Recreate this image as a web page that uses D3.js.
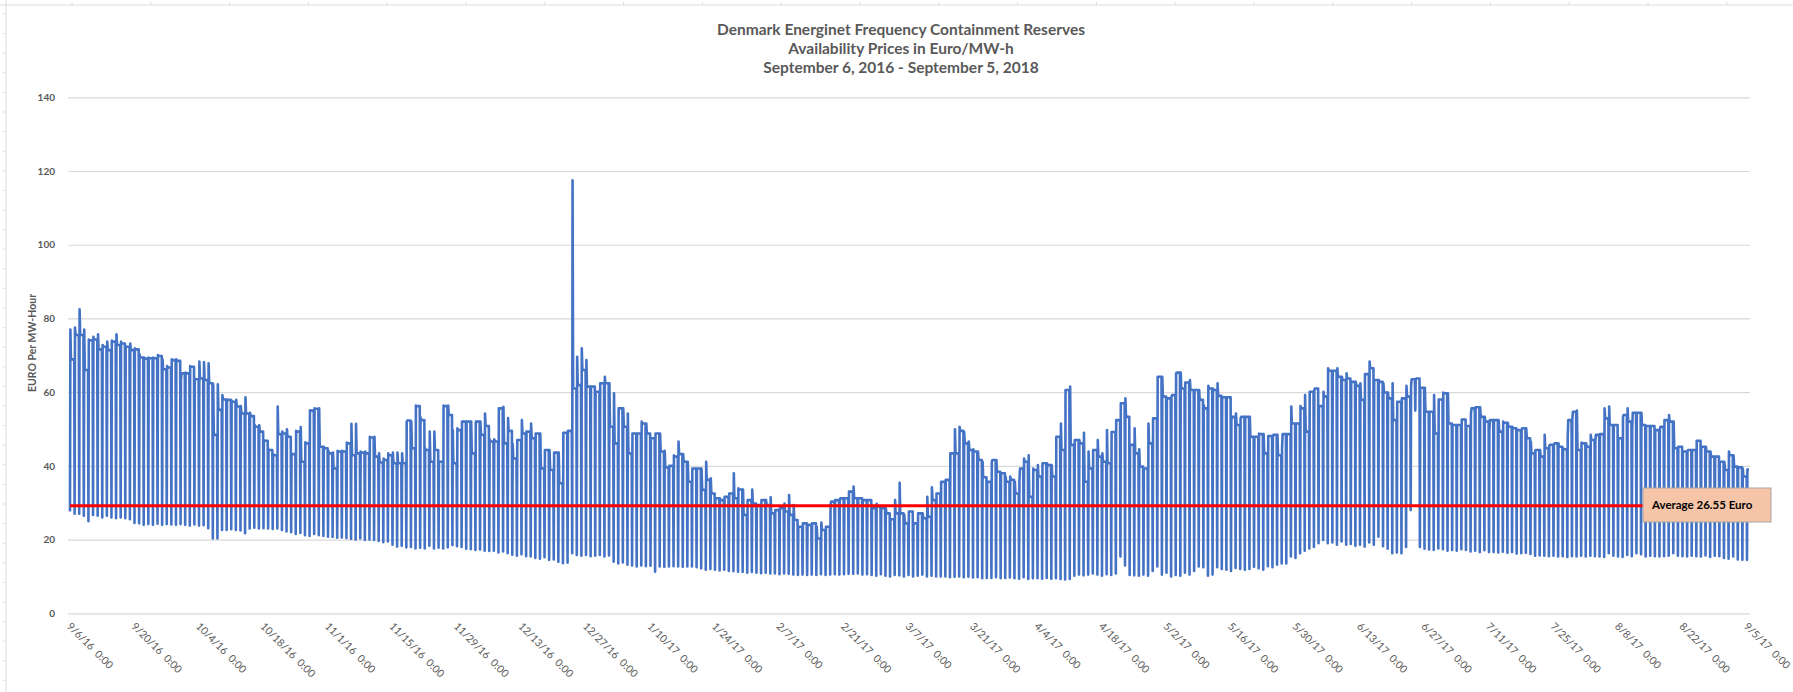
<!DOCTYPE html>
<html>
<head>
<meta charset="utf-8">
<title>Denmark Energinet FCR availability prices</title>
<script src="https://d3js.org/d3.v7.min.js"></script>
<style>
  body { margin: 0; background: #fff; }
  text { font-family: Lato, "Open Sans", sans-serif; }
</style>
</head>
<body>
<div id="chart"></div>
<script>
// ---- data ----
var titleLines = [
  "Denmark Energinet Frequency Containment Reserves",
  "Availability Prices in Euro/MW-h",
  "September 6, 2016 - September 5, 2018"
];
var yAxisTitle = "EURO Per MW-Hour";
var yTicks = [0, 20, 40, 60, 80, 100, 120, 140];
var firstDay = new Date(2016, 8, 6);
var lastDay = new Date(2017, 8, 5);
var tickStepDays = 14;

// daily morning peak (Euro/MW-h)
var peakPrices = [
  77, 77.5, 82.5, 77, 74.3, 75, 75.7, 72.8, 73.7, 74,
  75.7, 73.7, 72.5, 73.2, 71.9, 70.3, 69.4, 69.4, 69.4, 70.1,
  68.9, 67.1, 68.9, 68.9, 63.3, 65.3, 67.1, 63.7, 68.3, 68.2,
  67.8, 62.2, 62.1, 59.2, 58, 57.7, 57.9, 56.2, 58.6, 54.4,
  51.1, 51, 47, 44.5, 43.2, 56.1, 49.3, 49.9, 43.4, 49.5,
  50.5, 46.4, 55.1, 55.6, 55.6, 45.2, 44.1, 43.6, 44.1, 44.1,
  46.3, 51.4, 51.4, 43.9, 43.9, 47.9, 47.9, 43.4, 42, 43.4,
  43.6, 43.6, 43.4, 52, 52, 56.4, 53.2, 44.8, 49.3, 49.3,
  41.1, 56.4, 56.4, 49.7, 50.2, 52, 52, 52, 52, 52,
  54.2, 47.2, 47.2, 55.6, 56, 53, 46, 47, 52.4, 49.3,
  51.5, 48.8, 48.8, 44.3, 44.3, 43.6, 43.6, 49, 49.5, 117.5,
  69.6, 71.9, 68.7, 61.5, 60.1, 62.4, 64.2, 62.4, 59.7, 55.6,
  55.6, 54.2, 48.8, 48.8, 52, 51.5, 47.5, 48.8, 48.8, 44.1,
  40, 42.9, 46.6, 43.2, 41.1, 39.3, 39.3, 39.3, 41.1, 36.6,
  31.2, 31.2, 31.6, 32.5, 38, 33.9, 33.6, 30.7, 33.6, 29.4,
  30.7, 30.7, 31.5, 28, 28.5, 29.8, 32.1, 29.4, 23.5, 24.4,
  24, 24.4, 23.5, 24.6, 23.5, 29.4, 30.7, 30.3, 31.2, 33,
  34.4, 31.2, 30.7, 30.7, 28.9, 29.7, 28.5, 28.5, 25.5, 30.7,
  35.4, 26.7, 27.6, 24.4, 27.1, 27.1, 31.6, 34.2, 32.5, 35.7,
  36.2, 43.4, 49.9, 50.6, 49.2, 46.6, 44.5, 43.9, 41.1, 35.7,
  41.1, 41.6, 38, 37.1, 37.1, 35.7, 36.2, 42, 42.9, 39.3,
  40.2, 40.7, 40.7, 40.2, 47.9, 51.5, 60.6, 61.5, 47, 47,
  49, 43.9, 44.3, 47, 43.4, 49.7, 49.2, 52.4, 57, 58.3,
  45.7, 50.2, 44.5, 39.3, 51.5, 52.9, 64.2, 64.2, 58.3, 58.8,
  65.1, 65.3, 62.6, 63.3, 60.6, 60.6, 56.5, 61.7, 61, 62.4,
  58.6, 58.6, 52.4, 54.2, 52.9, 53.3, 53.3, 47.9, 48.8, 48.6,
  48.1, 48.1, 48.4, 44.8, 48.6, 56.1, 51.5, 56.2, 59.2, 60.1,
  60.6, 56.2, 60.1, 66.5, 65.8, 66.5, 64.2, 65.1, 62.8, 62.8,
  62.4, 64.9, 68.3, 63.3, 63.3, 62.4, 59.9, 62.4, 57.4, 58.3,
  61.7, 61.5, 63.5, 61.2, 61.2, 54.7, 59.2, 58, 59.9, 59.7,
  51.1, 51.1, 52.6, 50.8, 54.2, 55.9, 55.9, 53.3, 49.9, 52.4,
  52.4, 52, 51.7, 50.6, 49.5, 49.7, 50.2, 46.6, 44.3, 44.3,
  48.4, 45.4, 45.7, 46.1, 44.8, 47.9, 52.4, 55, 46.3, 46.1,
  48.4, 47, 48.6, 55.6, 56.1, 51.1, 47.5, 53.3, 55.6, 50.2,
  54.4, 54.4, 50.8, 50.8, 49.3, 49.7, 52.4, 53.8, 52, 45.2,
  43.9, 43.9, 44.3, 46.8, 45.2, 45.2, 43.9, 42.5, 41.1, 41.1,
  43.9, 42.9, 39.6, 39.3, 39
];

// daytime level after the peak
var plateauPrices = [
  68.9, 75.5, 75.5, 66, 74.1, 74.3, 71.6, 72.3, 71.4, 73.7,
  72.8, 73.2, 72.3, 71.4, 71.6, 69.4, 69.1, 69.2, 69.2, 69.8,
  66.2, 66.7, 68.7, 68.5, 65.1, 65.1, 66.9, 63.5, 63.7, 63.3,
  62.4, 48.4, 55.2, 58, 57.9, 57.4, 56.1, 54.2, 54.2, 53.5,
  50.6, 49.3, 46.8, 44.3, 42.9, 48.6, 48.8, 47.9, 43.2, 49.3,
  41.1, 46.1, 55, 55.5, 45.2, 44.8, 43.4, 39.3, 43.9, 43.9,
  46.1, 42.9, 43.4, 43.6, 43.4, 47.7, 42.5, 40.9, 41.6, 42.9,
  40.7, 40.7, 40.7, 52.3, 44.8, 56.2, 52.4, 44.3, 41.1, 44.3,
  41.1, 56.2, 53.8, 40.7, 49.7, 52, 52, 43.4, 52, 48.4,
  50.8, 46.6, 46.6, 55.6, 46.1, 49.5, 42, 47, 48.8, 49.3,
  47.5, 48.8, 39.3, 44.3, 38.9, 43.6, 35.3, 49, 49.5, 61,
  61.9, 66, 61.5, 61.5, 60.1, 62.4, 62.4, 50.6, 46.1, 55.6,
  50.6, 43.4, 48.8, 48.8, 51.5, 48.8, 47.5, 48.8, 43.9, 39.6,
  40, 42.5, 43.2, 41.1, 35.7, 39.3, 39.3, 33.5, 36.2, 32.5,
  31.2, 30.7, 31.6, 32.5, 31.2, 33.6, 26.7, 30.7, 29.8, 29.4,
  30.7, 29.4, 27.1, 28, 28.5, 27.6, 26.7, 25.3, 23.5, 24.4,
  24, 24.4, 20.3, 22.6, 23.5, 30.3, 30.7, 31.2, 31.2, 33,
  31.2, 31.2, 30.7, 30.7, 28.5, 28.9, 28.5, 27.1, 25.5, 27.1,
  27.1, 24.4, 27.6, 24.4, 27.1, 25.8, 26.2, 30.7, 32.5, 35.7,
  36.2, 43.4, 43.4, 49.5, 46.1, 44.3, 43.9, 41.6, 36.9, 35.7,
  41.6, 38.4, 38, 35.7, 36.2, 32.5, 39.3, 41.1, 31.6, 38.9,
  37.1, 40.7, 40.2, 37.1, 47.9, 44.3, 60.6, 45.7, 47, 46.1,
  35.7, 39.3, 44.3, 42.5, 41.1, 40.7, 49.2, 52.4, 57, 53.3,
  45.7, 43.4, 39.8, 39.3, 46.1, 52.9, 64.2, 58.8, 58.3, 59.2,
  65.3, 61, 62.6, 60.6, 60.6, 57.9, 55.6, 61, 60.6, 59,
  58.6, 58.6, 53.3, 51.1, 53.3, 53.3, 47.9, 47.9, 48.6, 43.4,
  48.1, 48.4, 42.9, 48.6, 48.6, 51.5, 51.5, 55.6, 49.3, 60.1,
  61, 56.2, 58.8, 65.8, 65.8, 64.2, 63.3, 63.7, 62.8, 61.7,
  57.9, 64.9, 66.5, 63.3, 62.8, 59.9, 58.3, 52.4, 57.4, 58.3,
  58.8, 63.5, 63.7, 61.2, 54.7, 54.7, 48.8, 58, 59.7, 51.5,
  51.1, 51.1, 52.6, 50.8, 55.6, 55.9, 53.3, 52, 52.4, 52.4,
  49.3, 51.7, 50.6, 50.2, 49.7, 50.2, 47.5, 43.4, 44.3, 42.5,
  44.8, 45.7, 46.1, 45.2, 44.5, 52.4, 54.7, 44.3, 46.1, 45.2,
  47, 48.4, 48.6, 52.9, 51.1, 51.1, 47.5, 53.8, 52, 54.4,
  54.4, 51.1, 50.8, 50.8, 49.7, 50.6, 52.4, 52, 44.8, 45.2,
  43.9, 44.3, 44.3, 46.8, 45.2, 43.9, 42.5, 42.5, 41.1, 38.9,
  42.9, 39.8, 39.6, 37.1, 39
];

// night-time low
var lowPrices = [
  27.6, 27, 27, 26.5, 25, 26.7, 26.5, 26, 26.5, 26,
  25.8, 26, 25.8, 25.5, 24.5, 24.4, 24, 24.2, 24, 24.3,
  24, 24.2, 24.1, 24, 24.2, 24, 23.8, 24.1, 23.8, 23.9,
  23.1, 20.3, 20.3, 22.6, 22.6, 22.8, 22.6, 22.5, 21.7, 23,
  23.2, 23, 23.1, 23, 22.9, 23, 22.6, 22.2, 22, 21.5,
  21.8, 21.2, 21, 21.5, 21.2, 21, 20.8, 20.7, 20.5, 20.6,
  20.4, 20.2, 20, 20.3, 19.9, 20, 19.9, 19.6, 19.3, 19.5,
  18.6, 18.1, 18.3, 17.9, 18, 17.6, 17.8, 17.6, 18.3, 17.6,
  17.8, 17.6, 17.9, 18.5, 18.2, 18, 17.5, 17.4, 17.2, 17.3,
  17, 16.9, 17, 16.5, 16.8, 16.3, 15.9, 15.6, 16, 15.5,
  15.4, 15, 14.8, 15.2, 14.5, 14.6, 14, 13.6, 13.7, 16.3,
  15.8, 15.6, 15.8, 15.5, 15.6, 15.8, 15.4, 15.7, 14, 13.5,
  13.8, 13.2, 13, 12.7, 13, 12.8, 12.9, 11.3, 12.7, 12.6,
  12.7, 12.8, 12.7, 12.6, 12.7, 12.7, 12.5, 12.2, 11.8, 12,
  11.8, 11.6, 11.8, 11.5, 11.4, 11.3, 11.2, 11, 11.2, 11,
  10.9, 11, 10.8, 10.8, 10.6, 10.8, 10.7, 10.5, 10.4, 10.5,
  10.4, 10.5, 10.4, 10.6, 10.4, 10.5, 10.6, 10.5, 10.6, 10.7,
  10.7, 10.8, 10.5, 10.6, 10.4, 10.2, 10.6, 10.2, 10, 10.4,
  10.3, 10, 10.4, 10, 10.2, 10.5, 10, 10.2, 10, 10,
  10, 9.8, 9.9, 10, 9.8, 9.9, 9.7, 9.8, 9.5, 9.6,
  9.6, 9.8, 9.5, 9.6, 9.7, 9.5, 9.4, 9.8, 9.3, 9.5,
  9.5, 9.4, 9.6, 9.4, 9.5, 9.3, 9.2, 9.3, 10.2, 10.5,
  10.3, 10.5, 10.8, 10.5, 10.2, 10.6, 10.4, 10.8, 15.4, 13,
  10.4, 10.3, 10.2, 10.5, 10.2, 11.5, 12.7, 10.5, 11, 10,
  10.4, 10.2, 11, 10.5, 11.5, 12.7, 12.5, 10.2, 10.5, 12.5,
  12, 11.8, 11.5, 12.3, 12, 11.8, 12, 12.6, 12.2, 11.8,
  12.8, 12.5, 13.2, 13.5, 13.5, 15.4, 15, 16.3, 17, 17.6,
  18, 19, 19.9, 19, 19.2, 18.6, 19.5, 18.6, 18.8, 18.3,
  18.6, 18.1, 19.2, 18.6, 20.8, 18.2, 17.5, 16.3, 16.5, 16.3,
  18, 28, 55, 18, 17.5, 17.3, 17.2, 17.6, 17.4, 17,
  17.2, 17, 17.4, 17.2, 16.8, 17, 16.6, 17.1, 16.6, 16.6,
  16.5, 16.7, 16.4, 16.6, 16.2, 16.3, 16.4, 16.1, 15.6, 15.7,
  15.6, 15.5, 15.6, 15.4, 15.5, 15.3, 15.5, 15.4, 15.6, 15.4,
  15.6, 15.5, 15.4, 15.3, 16.3, 15.6, 15.4, 15.3, 15.8, 15.5,
  16.3, 16, 15.4, 15.6, 15.5, 15.4, 15.5, 15.6, 16.3, 15.6,
  15.5, 15.4, 15.6, 15.5, 15.4, 15.7, 15.3, 15.6, 15.5, 15,
  14.8, 15.4, 14.6, 14.5, 14.5
];

var averageLevel = 29.2;   // where the red line sits
var averageLabel = "Average 26.55 Euro";

// ---- drawing ----
var W = 1793, H = 692;
var svg = d3.select("#chart").append("svg")
  .attr("width", W).attr("height", H)
  .style("display", "block");

var x = d3.scaleTime().domain([firstDay, lastDay]).range([70, 1747]);
var y = d3.scaleLinear().domain([0, 140]).range([613.3, 97.3]);
var gridLeft = 68, gridRight = 1750;

// faint sheet frame (left and top rulers)
var frame = svg.append("g").attr("stroke", "#dcdcdc").attr("fill", "none");
frame.append("line").attr("x1", 6).attr("x2", 6).attr("y1", 0).attr("y2", H);
frame.append("line").attr("x1", 0).attr("x2", W).attr("y1", 5).attr("y2", 5);
d3.range(14, H, 19.6).forEach(function(v) {
  frame.append("line").attr("x1", 3).attr("x2", 6).attr("y1", v).attr("y2", v);
});
d3.range(72, W, 78.8).forEach(function(v) {
  frame.append("line").attr("x1", v).attr("x2", v).attr("y1", 2).attr("y2", 5);
});

// title
svg.append("g").selectAll("text")
  .data(titleLines)
  .enter().append("text")
  .attr("x", 901)
  .attr("y", function(d, i) { return 35 + i * 18.8; })
  .attr("text-anchor", "middle")
  .attr("font-size", 15.5)
  .attr("font-weight", "bold")
  .attr("fill", "#595959")
  .text(function(d) { return d; });

// y gridlines + labels
var yAxis = svg.append("g")
  .attr("transform", "translate(" + gridLeft + ",0)")
  .call(d3.axisLeft(y).tickValues(yTicks).tickSize(-(gridRight - gridLeft)).tickPadding(13));
yAxis.select(".domain").remove();
yAxis.selectAll(".tick line").attr("stroke", "#d9d9d9").attr("stroke-width", 1.2);
yAxis.selectAll(".tick text")
  .attr("font-size", 10).attr("font-weight", "bold")
  .attr("fill", "#595959").attr("font-family", "Lato, sans-serif");

svg.append("text")
  .attr("transform", "translate(36," + 343 + ") rotate(-90)")
  .attr("text-anchor", "middle")
  .attr("font-size", 10.5).attr("font-weight", "bold").attr("fill", "#595959")
  .text(yAxisTitle);

// x axis labels
var tickDates = d3.range(0, 365, tickStepDays).map(function(i) { return d3.timeDay.offset(firstDay, i); });
var xAxis = svg.append("g")
  .attr("transform", "translate(0,620)")
  .call(d3.axisBottom(x).tickValues(tickDates).tickSize(0)
    .tickFormat(d3.timeFormat("%-m/%-d/%y  %-H:%M")));
xAxis.select(".domain").remove();
xAxis.selectAll(".tick text")
  .attr("x", 2).attr("y", 0).attr("dy", "0.75em")
  .attr("transform", "rotate(45)")
  .style("text-anchor", "start")
  .style("white-space", "pre")
  .attr("font-size", 10.5).attr("fill", "#595959")
  .attr("font-family", "Lato, sans-serif");

// price series: low at midnight, morning peak, then the day level
var points = [];
peakPrices.forEach(function(p, i) {
  var day = d3.timeDay.offset(firstDay, i);
  points.push({ t: day, v: lowPrices[i] });
  points.push({ t: d3.timeHour.offset(day, 2), v: p });
  points.push({ t: d3.timeHour.offset(day, 5), v: plateauPrices[i] });
  points.push({ t: d3.timeHour.offset(day, 22), v: plateauPrices[i] });
});

svg.append("clipPath").attr("id", "plotClip")
  .append("rect").attr("x", 60).attr("y", 80).attr("width", 1689).attr("height", 560);

svg.append("path")
  .datum(points)
  .attr("clip-path", "url(#plotClip)")
  .attr("fill", "none")
  .attr("stroke", "#4472c4")
  .attr("stroke-width", 2.6)
  .attr("stroke-linejoin", "round")
  .attr("d", d3.line().x(function(d) { return x(d.t); }).y(function(d) { return y(d.v); }));

// average line and its label
svg.append("line")
  .attr("x1", x(firstDay)).attr("x2", 1643)
  .attr("y1", y(averageLevel)).attr("y2", y(averageLevel))
  .attr("stroke", "#ff0000").attr("stroke-width", 3);

var lab = svg.append("g").attr("transform", "translate(1643,488)");
lab.append("rect")
  .attr("width", 128).attr("height", 34)
  .attr("fill", "#f6c5a8").attr("stroke", "#a6a6a6").attr("stroke-width", 1);
lab.append("text")
  .attr("x", 9).attr("y", 21)
  .attr("font-size", 11.5).attr("font-weight", "bold").attr("fill", "#000")
  .text(averageLabel);
</script>
</body>
</html>
